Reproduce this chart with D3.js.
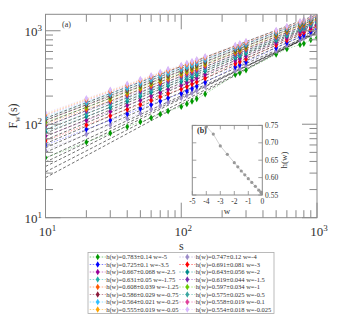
<!DOCTYPE html>
<html>
<head>
<meta charset="utf-8">
<script src="https://cdn.jsdelivr.net/npm/d3@7"></script>
<style>
  body { margin: 0; background: #fff; }
  text { font-family: "Liberation Serif", "DejaVu Serif", serif; fill: #333; }
</style>
</head>
<body>
<svg id="chart" width="350" height="321"></svg>
<script>
// scales s
const sVals = [10, 20, 30, 40, 50, 60, 70, 80, 100, 110, 120, 130, 150, 250, 270, 300, 500, 600, 750, 800, 900, 1000];

// one series per w
const wVals   = [-5, -4, -3.5, -3, -2.5, -2, -1.75, -1.5, -1.25, -1, -0.75, -0.5, -0.25, -0.1, -0.05, -0.025];
const wText   = ["-5", "-4", "-3.5", "-3", "-2.5", "-2", "-1.75", "-1.5", "-1.25", "-1", "-0.75", "-0.5", "-0.25", "-0.1", "-0.05", "-0.025"];
const hVals   = [0.783, 0.747, 0.725, 0.691, 0.667, 0.643, 0.631, 0.619, 0.608, 0.597, 0.586, 0.575, 0.564, 0.558, 0.555, 0.554];
const hErr    = ["0.14", "0.12", "0.1", "0.081", "0.068", "0.056", "0.05", "0.044", "0.039", "0.034", "0.029", "0.025", "0.021", "0.019", "0.019", "0.018"];
const colors  = ["#009900", "#9c8cc8", "#0000ff", "#ff0000", "#990099", "#008b8b", "#20b2aa", "#7a2fb0",
                 "#ff5a00", "#66cc00", "#8b1a3a", "#3aa6a0", "#2fbfff", "#e0409a", "#ffa500", "#d8b8ff"];

// F_w(s) per series
const F_m5     = [43.8, 64.3, 80.2, 94, 106, 117, 128, 138, 154, 165, 176, 187, 210, 340, 355, 380, 560, 640, 710, 730, 800, 841];
const F_m4     = [52.8, 78.2, 98.2, 115, 131, 145, 158, 171, 191, 204, 217, 229, 254, 375, 395, 430, 610, 700, 800, 835, 905, 968];
const F_m3p5   = [59.8, 88.1, 110, 129, 147, 162, 177, 191, 213, 227, 241, 255, 281, 410, 430, 462, 655, 745, 862, 900, 972, 1042];
const F_m3     = [66.5, 98.2, 123, 144, 163, 181, 197, 213, 238, 253, 269, 283, 312, 445, 467, 500, 703, 795, 918, 958, 1035, 1109];
const F_m2p5   = [74.6, 110, 137, 160, 181, 200, 218, 236, 262, 279, 295, 311, 341, 478, 501, 536, 746, 840, 968, 1009, 1087, 1164];
const F_m2     = [83, 121, 151, 176, 199, 220, 239, 258, 286, 304, 321, 338, 370, 511, 536, 573, 791, 887, 1021, 1064, 1146, 1225];
const F_m1p75  = [89.7, 130, 162, 189, 212, 234, 255, 274, 304, 322, 340, 357, 390, 535, 560, 597, 818, 914, 1050, 1091, 1172, 1253];
const F_m1p5   = [95.5, 138, 171, 200, 224, 247, 268, 288, 320, 339, 356, 375, 408, 556, 583, 621, 845, 944, 1079, 1122, 1205, 1285];
const F_m1p25  = [100, 145, 179, 209, 236, 259, 281, 303, 336, 355, 374, 393, 427, 578, 605, 644, 873, 973, 1112, 1153, 1236, 1318];
const F_m1     = [105, 152, 189, 220, 247, 272, 295, 318, 352, 372, 392, 410, 446, 600, 628, 667, 897, 998, 1135, 1180, 1262, 1343];
const F_m0p75  = [111, 160, 197, 229, 258, 283, 307, 330, 366, 386, 406, 425, 461, 618, 646, 685, 920, 1021, 1159, 1202, 1285, 1368];
const F_m0p5   = [115, 166, 205, 238, 267, 294, 319, 343, 380, 401, 421, 441, 478, 638, 667, 706, 942, 1045, 1183, 1227, 1312, 1393];
const F_m0p25  = [121, 174, 214, 249, 280, 308, 334, 359, 397, 419, 439, 459, 497, 659, 689, 729, 968, 1069, 1211, 1256, 1337, 1419];
const F_m0p1   = [125, 180, 222, 258, 290, 319, 346, 372, 411, 433, 454, 474, 512, 676, 705, 746, 986, 1086, 1227, 1271, 1355, 1435];
const F_m0p05  = [128, 185, 228, 264, 296, 326, 353, 379, 420, 442, 462, 484, 522, 689, 718, 759, 1000, 1104, 1247, 1291, 1374, 1455];
const F_m0p025 = [132, 189, 233, 270, 303, 333, 361, 388, 430, 452, 473, 494, 533, 701, 731, 773, 1016, 1119, 1262, 1306, 1390, 1472];

// power-law fit: value of the fit at s=10 (slope = h)
const fitAt10 = [26.8, 30.9, 35.3, 39.4, 43.4, 50, 56, 62, 68, 74, 80, 87, 95, 103, 110, 116];

const allF = [F_m5, F_m4, F_m3p5, F_m3, F_m2p5, F_m2, F_m1p75, F_m1p5, F_m1p25, F_m1,
              F_m0p75, F_m0p5, F_m0p25, F_m0p1, F_m0p05, F_m0p025];

const svg = d3.select("#chart");
const frame = "#8a8a8a";

// ---------- main panel ----------
const x = d3.scaleLog().domain([10, 1000]).range([45.5, 317]);
const y = d3.scaleLog().domain([10, 1500]).range([217.7, 14.3]);

svg.append("clipPath").attr("id", "clipMain")
  .append("rect").attr("x", 45.5).attr("y", 14.3).attr("width", 317 - 45.5).attr("height", 217.7 - 14.3);

const plot = svg.append("g").attr("clip-path", "url(#clipMain)");

// fit lines
const fitLine = d3.line().x(d => x(d[0])).y(d => y(d[1]));
hVals.forEach((h, i) => {
  const pts = [10, 1000].map(s => [s, fitAt10[i] * Math.pow(s / 10, h)]);
  plot.append("path").attr("d", fitLine(pts))
    .attr("fill", "none").attr("stroke", "#111").attr("stroke-width", 0.6)
    .attr("stroke-dasharray", "3,2");
});

// data lines + markers
const dataLine = d3.line().x((d, j) => x(sVals[j])).y(d => y(d));
allF.forEach((F, i) => {
  plot.append("path").attr("d", dataLine(F))
    .attr("fill", "none").attr("stroke", colors[i]).attr("stroke-width", 0.5)
    .attr("stroke-dasharray", "1.5,1.5").attr("opacity", 0.7);
});
const sym = d3.symbol().type(d3.symbolDiamond).size(13);
allF.forEach((F, i) => {
  plot.append("g").selectAll("path").data(F).join("path")
    .attr("d", sym)
    .attr("transform", (d, j) => `translate(${x(sVals[j])},${y(d)})`)
    .attr("fill", colors[i]);
});

// frame
svg.append("rect").attr("x", 45.5).attr("y", 14.3).attr("width", 317 - 45.5).attr("height", 217.7 - 14.3)
  .attr("fill", "none").attr("stroke", frame).attr("stroke-width", 1);

// ticks (inward, all four sides)
const majors = [10, 100, 1000];
const minors = [];
[10, 100].forEach(d => { for (let k = 2; k <= 9; k++) minors.push(d * k); });
const ticks = svg.append("g").attr("stroke", frame).attr("stroke-width", 1);
majors.concat(minors).forEach(v => {
  const len = majors.includes(v) ? 15 : 7.5;
  const xx = x(v);
  ticks.append("line").attr("x1", xx).attr("x2", xx).attr("y1", 217.7).attr("y2", 217.7 - len);
  ticks.append("line").attr("x1", xx).attr("x2", xx).attr("y1", 14.3).attr("y2", 14.3 + len);
  if (v <= 1500) {
    const yy = y(v);
    ticks.append("line").attr("x1", 45.5).attr("x2", 45.5 + len).attr("y1", yy).attr("y2", yy);
    ticks.append("line").attr("x1", 317).attr("x2", 317 - len).attr("y1", yy).attr("y2", yy);
  }
});

// tick labels
const expLabel = (g, v, tx, ty, anchor) => {
  const t = g.append("text").attr("x", tx).attr("y", ty).attr("text-anchor", anchor).attr("font-size", 13);
  t.append("tspan").text("10");
  t.append("tspan").attr("dy", -5).attr("font-size", 9).text(Math.round(Math.log10(v)));
};
majors.forEach(v => {
  expLabel(svg, v, x(v) + 2, 236, "middle");
  expLabel(svg, v, 42, y(v) + 5, "end");
});

svg.append("text").attr("x", x(100)).attr("y", 250).attr("text-anchor", "middle").attr("font-size", 12).text("s");
const yl = svg.append("text").attr("transform", "translate(17,116) rotate(-90)")
  .attr("text-anchor", "middle").attr("font-size", 12);
yl.append("tspan").text("F");
yl.append("tspan").attr("dy", 3).attr("font-size", 8).text("w");
yl.append("tspan").attr("dy", -3).text("(s)");
svg.append("text").attr("x", 62).attr("y", 27).attr("font-size", 8).text("(a)");

// ---------- inset ----------
const ix = d3.scaleLinear().domain([-5, 0]).range([192.3, 262.3]);
const iy = d3.scaleLinear().domain([0.55, 0.75]).range([195, 125.4]);

svg.append("rect").attr("x", 192.3).attr("y", 125.4).attr("width", 70).attr("height", 195 - 125.4)
  .attr("fill", "#fff").attr("stroke", frame).attr("stroke-width", 1);
svg.append("clipPath").attr("id", "clipInset")
  .append("rect").attr("x", 192.3).attr("y", 125.4).attr("width", 70).attr("height", 195 - 125.4);
const inset = svg.append("g").attr("clip-path", "url(#clipInset)");
const hw = wVals.map((w, i) => [w, hVals[i]]);
inset.append("path").attr("d", d3.line().x(d => ix(d[0])).y(d => iy(d[1]))(hw))
  .attr("fill", "none").attr("stroke", "#c8c8c8").attr("stroke-width", 0.8);
inset.selectAll("circle").data(hw).join("circle")
  .attr("cx", d => ix(d[0])).attr("cy", d => iy(d[1])).attr("r", 1.6).attr("fill", "#999");

const it = svg.append("g").attr("stroke", frame).attr("stroke-width", 0.8);
[-5, -4, -3, -2, -1, 0].forEach(v => {
  it.append("line").attr("x1", ix(v)).attr("x2", ix(v)).attr("y1", 195).attr("y2", 191);
  it.append("line").attr("x1", ix(v)).attr("x2", ix(v)).attr("y1", 125.4).attr("y2", 129.4);
  svg.append("text").attr("x", ix(v)).attr("y", 204).attr("text-anchor", "middle").attr("font-size", 7.5).text(v === 0 ? "0" : "-" + Math.abs(v));
});
[0.55, 0.6, 0.65, 0.7, 0.75].forEach(v => {
  it.append("line").attr("x1", 192.3).attr("x2", 196.3).attr("y1", iy(v)).attr("y2", iy(v));
  it.append("line").attr("x1", 262.3).attr("x2", 258.3).attr("y1", iy(v)).attr("y2", iy(v));
  svg.append("text").attr("x", 265).attr("y", iy(v) + 2.5).attr("font-size", 7.5).text(v.toFixed(2));
});
svg.append("text").attr("x", 227).attr("y", 214).attr("text-anchor", "middle").attr("font-size", 9).text("w");
svg.append("text").attr("transform", "translate(287,160) rotate(-90)").attr("text-anchor", "middle")
  .attr("font-size", 9).text("h(w)");
svg.append("text").attr("x", 197).attr("y", 133).attr("font-size", 8).attr("font-weight", "bold").text("(b)");

// ---------- legend ----------
const lg = svg.append("g");
lg.append("rect").attr("x", 88).attr("y", 252.5).attr("width", 186).attr("height", 61)
  .attr("fill", "#fff").attr("stroke", "#aaa").attr("stroke-width", 0.8);
wVals.forEach((w, i) => {
  const col = i % 2, row = Math.floor(i / 2);
  const mx = col === 0 ? 97.7 : 187.3;
  const my = 257 + row * 7.5;
  lg.append("line").attr("x1", mx - 8).attr("x2", mx + 8).attr("y1", my).attr("y2", my)
    .attr("stroke", colors[i]).attr("stroke-width", 0.5).attr("stroke-dasharray", "1.5,1.5");
  lg.append("path").attr("d", sym).attr("transform", `translate(${mx},${my})`).attr("fill", colors[i]);
  lg.append("text").attr("x", mx + 8.5).attr("y", my + 2.3).attr("font-size", 6.5)
    .text(`h(w)=${hVals[i]}±${hErr[i]} w=${wText[i]}`);
});
</script>
</body>
</html>
